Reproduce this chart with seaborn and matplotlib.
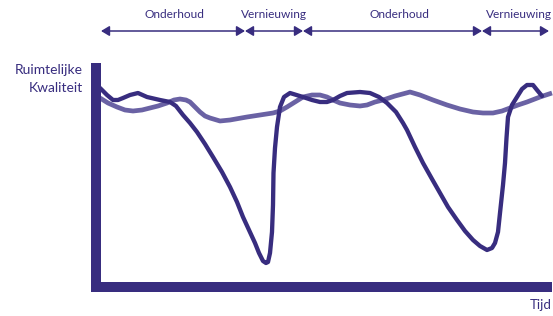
import matplotlib
matplotlib.use("Agg")
import matplotlib.pyplot as plt
import seaborn as sns
import pandas as pd

# ---- data (time units, quality units) ----
dark_px = [100,107,113,118,123,130,138,147,160,170,176,183,190,197,205,213,222,230,237,243,249,255,259,263,266,268,270,272,273,273.5,275,277,280,284,290,303,312,320,327,333,340,347,360,370,379,387,396,403,407,415,423,432,440,448,457,465,473,480,487,492,495,498,500,503,505,506.5,508,512,517,522,527,533,537,542]
dark_py = [88,95,100,100,98,95,93,97,100,102,106,115,123,132,144,157,172,187,202,217,230,243,253,261,263,262,253,232,205,173,148,127,107,97,93,97,100,102,102,100,96,93,92,93,97,103,112,123,130,147,163,179,193,207,220,231,240,246,250,248,243,232,213,185,163,138,117,105,97,89,85,85,90,96]
light_px = [100,108,117,125,133,142,150,158,167,174,180,186,190,195,200,205,210,220,230,247,260,273,280,287,295,303,312,320,327,333,340,350,360,367,375,383,395,410,420,433,447,460,473,483,493,502,510,518,527,540,552]
light_py = [98,103,107,110,111,110,108,106,103,100,99,100,102,107,112,116,118,121,120,117,115,113,111,107,102,97,95,95,97,100,103,105,106,105,102,100,96,92,95,100,105,109,112,113,113,111,108,105,102,97,93]

tijd_dark = [x - 96 for x in dark_px]
kwal_dark = [287 - y for y in dark_py]
tijd_light = [x - 96 for x in light_px]
kwal_light = [287 - y for y in light_py]

phase_labels = ["Onderhoud", "Vernieuwing", "Onderhoud", "Vernieuwing"]
phase_bounds = [5, 149, 207, 386, 453]

DARK = "#382d7f"
LIGHT = "#6a62a4"

sns.set_style("white")
plt.rcParams["font.family"] = ["Lato", "DejaVu Sans"]

fig = plt.figure(figsize=(5.53, 3.16), dpi=100)
ax = fig.add_axes([96/553, 29/316, 451/553, 219/316])

df_light = pd.DataFrame({"tijd": tijd_light, "kwaliteit": kwal_light})
df_dark = pd.DataFrame({"tijd": tijd_dark, "kwaliteit": kwal_dark})
sns.lineplot(data=df_light, x="tijd", y="kwaliteit", ax=ax, color=LIGHT,
             linewidth=3.4, sort=False, estimator=None, clip_on=False,
             solid_capstyle="butt", solid_joinstyle="round")
sns.lineplot(data=df_dark, x="tijd", y="kwaliteit", ax=ax, color=DARK,
             linewidth=3.1, sort=False, estimator=None, clip_on=False,
             solid_capstyle="round", solid_joinstyle="round")

ax.set_xlim(0, 451)
ax.set_ylim(0, 219)
ax.set_xticks([])
ax.set_yticks([])
ax.set_xlabel("")
ax.set_ylabel("")
for s in ["top", "right"]:
    ax.spines[s].set_visible(False)
for s in ["left", "bottom"]:
    ax.spines[s].set_linewidth(7.2)
    ax.spines[s].set_color(DARK)
    ax.spines[s].set_capstyle("projecting")
    ax.spines[s].set_zorder(5)

# phase arrows and labels
arrow_y = 256
label_shift = [1, 0, 7, 3]
for i, lab in enumerate(phase_labels):
    a, b = phase_bounds[i], phase_bounds[i + 1]
    ax.annotate("", xy=(b, arrow_y), xytext=(a, arrow_y), xycoords="data",
                annotation_clip=False,
                arrowprops=dict(arrowstyle="<|-|>,head_length=0.5,head_width=0.3",
                                mutation_scale=10, color=DARK, lw=1.1,
                                shrinkA=0, shrinkB=0))
    ax.text((a + b) / 2 + label_shift[i], 273, lab, ha="center", va="center",
            color=DARK, fontsize=8.6, clip_on=False)

ax.text(-13, 217, "Ruimtelijke", ha="right", va="center", color=DARK,
        fontsize=10, clip_on=False)
ax.text(-13, 199, "Kwaliteit", ha="right", va="center", color=DARK,
        fontsize=10, clip_on=False)
ax.text(456, -18, "Tijd", ha="right", va="center", color=DARK,
        fontsize=9.5, clip_on=False)

fig.savefig("out.png", dpi=100)
